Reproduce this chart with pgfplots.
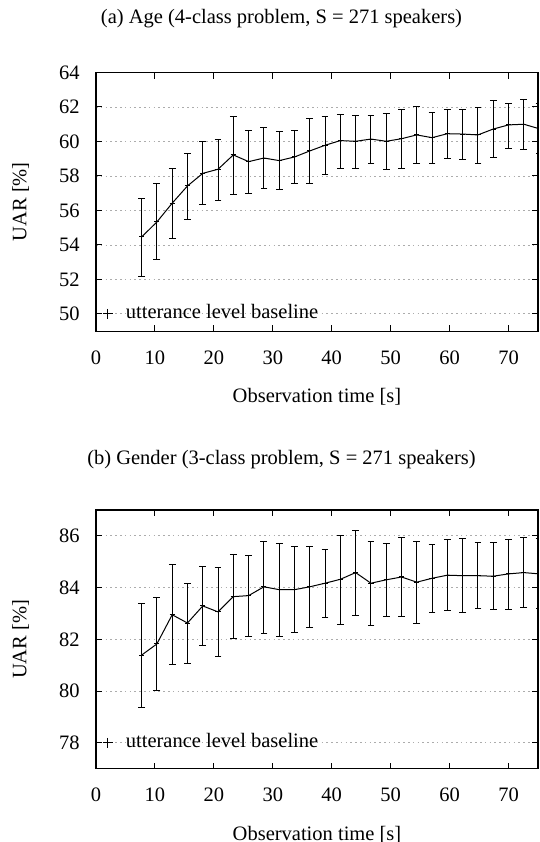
\documentclass[border=0pt]{standalone}
\usepackage{fontspec}
\setmainfont{Liberation Serif}
\usepackage{pgfplots}
\usepackage{pgfplotstable}
\pgfplotsset{compat=1.18}

\pgfplotstableread{
x y ep em
7.74 54.46 2.26 2.28
10.33 55.33 2.23 2.18
12.93 56.42 2.02 2.05
15.52 57.42 1.89 1.97
18.12 58.15 1.82 1.81
20.71 58.39 1.72 1.82
23.30 59.22 2.24 2.28
25.90 58.83 1.78 1.82
28.49 59.04 1.78 1.77
31.09 58.89 1.70 1.68
33.68 59.10 1.51 1.54
36.27 59.45 1.91 1.89
38.87 59.78 1.68 1.70
41.46 60.05 1.52 1.59
44.06 60.01 1.49 1.55
46.65 60.14 1.36 1.41
49.24 60.01 1.64 1.62
51.84 60.16 1.67 1.70
54.43 60.38 1.62 1.68
57.03 60.22 1.47 1.47
59.62 60.45 1.43 1.46
62.21 60.43 1.45 1.50
64.81 60.38 1.60 1.63
67.40 60.72 1.63 1.66
70.00 60.96 1.27 1.34
72.59 61.00 1.44 1.47
75.19 60.74 1.45 1.45
}\tAge

\pgfplotstableread{
x y ep em
7.74 81.39 2.00 2.02
10.33 81.82 1.79 1.81
12.93 82.95 1.95 1.94
15.52 82.63 1.54 1.56
18.12 83.29 1.52 1.54
20.71 83.06 1.71 1.73
23.30 83.65 1.63 1.62
25.90 83.69 1.56 1.57
28.49 84.03 1.76 1.80
31.09 83.92 1.78 1.80
33.68 83.92 1.68 1.67
36.27 84.03 1.57 1.59
38.87 84.17 1.31 1.31
41.46 84.32 1.69 1.73
44.06 84.58 1.64 1.66
46.65 84.17 1.62 1.63
49.24 84.30 1.39 1.40
51.84 84.41 1.54 1.53
54.43 84.21 1.58 1.59
57.03 84.36 1.32 1.31
59.62 84.48 1.38 1.38
62.21 84.46 1.42 1.41
64.81 84.46 1.28 1.25
67.40 84.44 1.30 1.29
70.00 84.53 1.34 1.36
72.59 84.58 1.36 1.35
75.19 84.53 1.35 1.35
}\tGender

\pgfplotsset{
  uarstyle/.style={
    width=221pt, height=129.3pt, scale only axis,
    xmin=0, xmax=75,
    xtick={0,10,...,70},
    tick align=inside,
    major tick length=3pt,
    tick style={black, line width=0.5pt},
    axis line style={black, line width=0.6pt},
    ymajorgrids,
    grid style={gray!65, line width=0.4pt, dash pattern=on 0.8pt off 1.6pt},
    /pgf/number format/assume math mode=true,
    xticklabel style={anchor=center, inner sep=0pt, yshift=-13.2pt},
    yticklabel style={anchor=east, inner sep=0pt, xshift=-8pt},
    every axis x label/.style={at={(axis description cs:0.5,0)}, anchor=center, yshift=-33pt},
    every axis y label/.style={at={(axis description cs:0,0.5)}, xshift=-37.7pt, rotate=90, anchor=center},
    xlabel={Observation time [s]},
    ylabel={UAR [\%]},
    font=\fontsize{10.25}{12}\selectfont,
  },
  datastyle/.style={
    black, line width=0.5pt, mark=+, mark size=1.3pt,
    mark options={solid, line width=0.5pt},
    error bars/.cd, y dir=both, y explicit,
    error bar style={black, line width=0.5pt},
    error mark options={rotate=90, mark size=1.7pt, line width=0.5pt, black},
  },
}

\begin{document}
\begin{tikzpicture}[font=\fontsize{10.25}{12}\selectfont]
\useasboundingbox (0,0) rectangle (270pt,-421pt);

\node at (140.75pt,-9.5pt) {(a) Age (4-class problem, S = 271 speakers)};
\node at (140.75pt,-229.75pt) {(b) Gender (3-class problem, S = 271 speakers)};

\begin{axis}[uarstyle, name=A, at={(48pt,-36.25pt)}, anchor=north west,
  ymin=49, ymax=64, ytick={50,52,...,64}]
\addplot[datastyle] table[x=x, y=y, y error plus=ep, y error minus=em] {\tAge};
\addplot[black, only marks, mark=+, mark size=2.5pt, line width=0.5pt] coordinates {(2,50)};
\node[anchor=base west, inner sep=0pt, yshift=-2.5pt] at (axis cs:5,50) {utterance level baseline};
\end{axis}

\begin{axis}[uarstyle, name=B, at={(48pt,-255pt)}, anchor=north west,
  ymin=77, ymax=87, ytick={78,80,...,86}]
\addplot[datastyle] table[x=x, y=y, y error plus=ep, y error minus=em] {\tGender};
\addplot[black, only marks, mark=+, mark size=2.5pt, line width=0.5pt] coordinates {(2,78)};
\node[anchor=base west, inner sep=0pt, yshift=-2.5pt] at (axis cs:5,78) {utterance level baseline};
\end{axis}
\end{tikzpicture}
\end{document}
